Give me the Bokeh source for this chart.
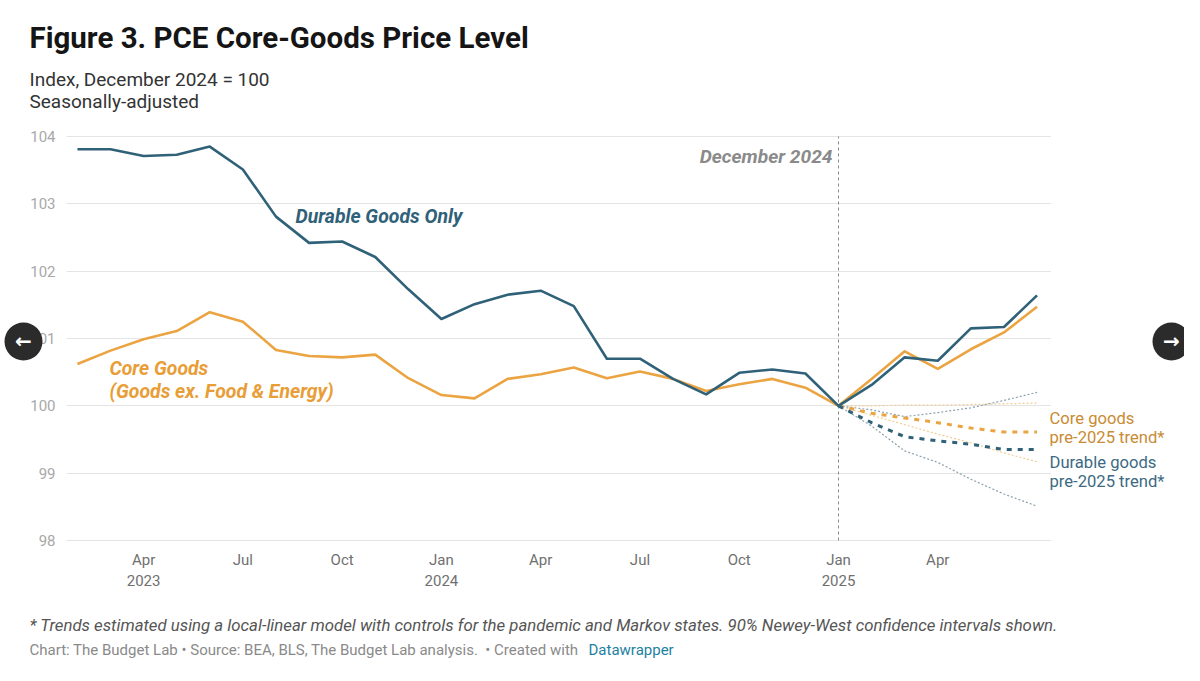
from bokeh.plotting import figure
from bokeh.models import Label, BoxAnnotation, FixedTicker, Range1d
from bokeh.embed import file_html
from bokeh.resources import INLINE

FONT = "Roboto"

# ---------------- data ----------------
months = ["2023-01", "2023-02", "2023-03", "2023-04", "2023-05", "2023-06",
          "2023-07", "2023-08", "2023-09", "2023-10", "2023-11", "2023-12",
          "2024-01", "2024-02", "2024-03", "2024-04", "2024-05", "2024-06",
          "2024-07", "2024-08", "2024-09", "2024-10", "2024-11", "2024-12",
          "2025-01", "2025-02", "2025-03", "2025-04", "2025-05", "2025-06"]

durable_goods = [103.81, 103.81, 103.71, 103.73, 103.85, 103.51, 102.81, 102.42,
                 102.44, 102.21, 101.73, 101.29, 101.51, 101.65, 101.71, 101.48,
                 100.70, 100.70, 100.40, 100.17, 100.49, 100.54, 100.48, 100.00,
                 100.31, 100.72, 100.67, 101.15, 101.17, 101.64]

core_goods = [100.62, 100.82, 100.99, 101.11, 101.39, 101.25, 100.83, 100.74,
              100.72, 100.76, 100.41, 100.16, 100.11, 100.40, 100.47, 100.57,
              100.41, 100.51, 100.40, 100.22, 100.32, 100.40, 100.27, 100.00,
              100.40, 100.81, 100.55, 100.84, 101.09, 101.47]

trend_months = ["2024-12", "2025-01", "2025-02", "2025-03", "2025-04", "2025-05", "2025-06"]
core_trend = [100.00, 99.89, 99.82, 99.75, 99.67, 99.61, 99.61]
core_trend_hi = [100.00, 100.00, 100.01, 100.01, 100.02, 100.03, 100.04]
core_trend_lo = [100.00, 99.86, 99.72, 99.58, 99.45, 99.30, 99.17]
durable_trend = [100.00, 99.75, 99.54, 99.48, 99.43, 99.35, 99.35]
durable_trend_hi = [100.00, 99.94, 99.84, 99.90, 99.97, 100.08, 100.20]
durable_trend_lo = [100.00, 99.70, 99.33, 99.16, 98.91, 98.69, 98.51]

tick_months = ["2023-04", "2023-07", "2023-10", "2024-01", "2024-04",
               "2024-07", "2024-10", "2025-01", "2025-04"]
tick_labels = ["Apr\n2023", "Jul", "Oct", "Jan\n2024", "Apr", "Jul", "Oct", "Jan\n2025", "Apr"]
y_ticks = [98, 99, 100, 101, 102, 103, 104]
marker_month = "2024-12"


def month_end(m):
    """monthly observation placed at the end of its month (months since Jan 1 2023)"""
    y, mo = m.split("-")
    return (int(y) - 2023) * 12 + int(mo)


def month_start(m):
    y, mo = m.split("-")
    return (int(y) - 2023) * 12 + int(mo) - 1


x = [month_end(m) for m in months]
tx = [month_end(m) for m in trend_months]
ticks = [month_start(m) for m in tick_months]

# ---------------- colours ----------------
C_DUR = "#2f6178"
C_CORE = "#eba441"
C_CORE_TXT = "#e89d36"
C_DUR_CI = "#8aa0ad"
C_CORE_CI = "#f3cc95"

# ---------------- figure (frame = whole canvas) ----------------
W, H = 1184, 665
PX_X = 33.09          # pixels per month
PX_Y = 67.33          # pixels per index point
CANVAS_X0, CANVAS_Y0 = 1, 1
X_AT_DEC24, Y_AT_104 = 839, 137

x_end_val = month_end(marker_month) + (CANVAS_X0 + W - X_AT_DEC24) / PX_X
x_start_val = x_end_val - W / PX_X
y_end_val = max(y_ticks) + (Y_AT_104 - CANVAS_Y0) / PX_Y
y_start_val = y_end_val - H / PX_Y

p = figure(width=W, height=H, output_backend="svg", toolbar_location=None,
           x_range=Range1d(x_start_val, x_end_val), y_range=Range1d(y_start_val, y_end_val),
           min_border=0, min_border_left=0, min_border_right=0, min_border_top=0,
           min_border_bottom=0, background_fill_color="white", border_fill_color="white")
p.outline_line_color = None
p.xgrid.grid_line_color = None
p.ygrid.grid_line_color = "#e4e4e4"
p.ygrid.grid_line_width = 1

p.xaxis.ticker = FixedTicker(ticks=ticks)
p.xaxis.major_label_overrides = {t: l for t, l in zip(ticks, tick_labels)}
p.yaxis.ticker = FixedTicker(ticks=y_ticks)
for ax in (p.xaxis[0], p.yaxis[0]):
    ax.axis_line_color = None
    ax.major_tick_line_color = None
    ax.minor_tick_line_color = None
    ax.major_label_text_font = FONT
    ax.major_label_text_font_size = "15px"
p.xaxis.major_label_text_color = "#707070"
p.yaxis.major_label_text_color = "#a8a8a8"
p.yaxis.major_label_standoff = -61
p.xaxis.major_label_standoff = -121

# chart body extends from just before the first month to just after the last
body_left = month_end(months[0]) - 0.33
body_right = month_end(months[-1]) + 0.42
for kw in (dict(right=body_left), dict(left=body_right)):
    p.add_layout(BoxAnnotation(fill_color="white", fill_alpha=1, line_color=None,
                               level="underlay", **kw))

# December 2024 marker
p.segment(x0=[month_end(marker_month)], y0=[min(y_ticks)], x1=[month_end(marker_month)],
          y1=[max(y_ticks)], line_color="#8a8a8a", line_width=1, line_dash="3 3")

# confidence bands (dotted)
p.line(tx, core_trend_hi, line_color=C_CORE_CI, line_width=1.2, line_dash="2 2")
p.line(tx, core_trend_lo, line_color=C_CORE_CI, line_width=1.2, line_dash="2 2")
p.line(tx, durable_trend_hi, line_color=C_DUR_CI, line_width=1.2, line_dash="2 2")
p.line(tx, durable_trend_lo, line_color=C_DUR_CI, line_width=1.2, line_dash="2 2")

# trends (dashed)
p.line(tx, core_trend, line_color=C_CORE, line_width=3, line_dash="5 6")
p.line(tx, durable_trend, line_color=C_DUR, line_width=3, line_dash="5 6")

# main series
p.line(x, core_goods, line_color=C_CORE, line_width=2.6, line_join="round")
p.line(x, durable_goods, line_color=C_DUR, line_width=2.6, line_join="round")


def lab(text, x, y, size, color, style="normal", align="left", baseline="middle",
        xu="screen", yu="screen", font=FONT, **kw):
    p.add_layout(Label(x=x, y=y, x_units=xu, y_units=yu, text=text,
                       text_font=font, text_font_size=size, text_color=color,
                       text_font_style=style, text_align=align, text_baseline=baseline, **kw))


# page coordinates -> frame-relative screen coordinates
def sx(px):
    return px - CANVAS_X0


def sy(py):
    return CANVAS_Y0 + H - py


# headings
lab("Figure 3. PCE Core-Goods Price Level", sx(30), sy(38.5), "29.5px", "#151515", "bold")
lab("Index, December 2024 = 100", sx(30), sy(79.5), "19px", "#333333")
lab("Seasonally-adjusted", sx(30), sy(101.5), "19px", "#333333")

# footer
lab("* Trends estimated using a local-linear model with controls for the pandemic and Markov "
    "states. 90% Newey-West confidence intervals shown.", sx(30), sy(625), "16.8px", "#555555",
    "italic")
lab("Chart: The Budget Lab \u2022 Source: BEA, BLS, The Budget Lab analysis.\u00a0\u00a0\u2022 "
    "Created with", sx(30), sy(650), "15px", "#8a8a8a")
lab("Datawrapper", sx(589), sy(650), "15px", "#1d81a2")

# in-chart annotations (data coordinates)
lab("December 2024", month_end(marker_month), 103.70, "19.2px", "#8a8a8a", "bold italic",
    align="right", xu="data", yu="data", x_offset=-6)
lab("Durable Goods Only", 7.59, 102.81, "19.4px", C_DUR, "bold italic", xu="data", yu="data")
lab("Core Goods", 1.967, 100.56, "19.4px", C_CORE_TXT, "bold italic", xu="data", yu="data")
lab("(Goods ex. Food & Energy)", 1.967, 100.22, "19.4px", C_CORE_TXT, "bold italic",
    xu="data", yu="data")

# right-hand trend labels
lab("Core goods", sx(1050), 99.81, "16.6px", "#c98b33", yu="data")
lab("pre-2025 trend*", sx(1050), 99.53, "16.6px", "#c98b33", yu="data")
lab("Durable goods", sx(1050), 99.16, "16.6px", "#3c6a82", yu="data")
lab("pre-2025 trend*", sx(1050), 98.88, "16.6px", "#3c6a82", yu="data")

# carousel buttons of the screenshot
for cx in (24, 1172):
    p.add_layout(BoxAnnotation(left=sx(cx - 19), right=sx(cx + 19), top=sy(342 - 19),
                               bottom=sy(342 + 19), left_units="screen", right_units="screen",
                               top_units="screen", bottom_units="screen", border_radius=19,
                               fill_color="#2b2b2b", fill_alpha=1, line_color=None, level="overlay"))
lab("\u2190", sx(24), sy(341), "20px", "white", "bold", align="center", font="DejaVu Sans",
    level="overlay")
lab("\u2192", sx(1172), sy(341), "20px", "white", "bold", align="center", font="DejaVu Sans",
    level="overlay")

open("out.html", "w").write(file_html(p, INLINE))
